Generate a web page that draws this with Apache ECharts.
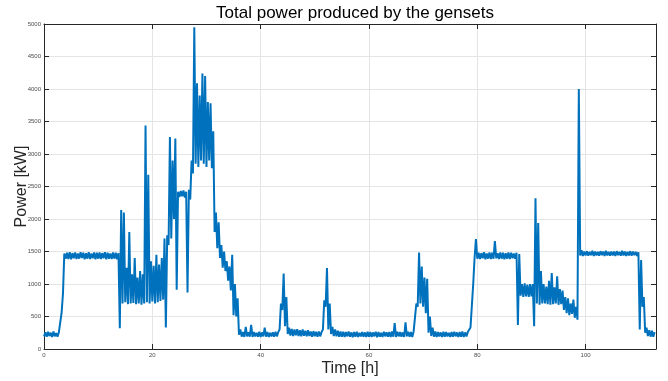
<!DOCTYPE html>
<html>
<head>
<meta charset="utf-8">
<script src="https://cdn.jsdelivr.net/npm/echarts@6/dist/echarts.min.js"></script>
<style>
html,body{margin:0;padding:0;background:#fff;}
#main{width:668px;height:381px;}
</style>
</head>
<body>
<div id="main"></div>
<script>
// time grid of the readings: one lo/hi pair every half hour
var stepHours = 0.5;
var xTicks = [0, 20, 40, 60, 80, 100];
var yTicks = [0, 500, 1000, 1500, 2000, 2500, 3000, 3500, 4000, 4500, 5000];

// lower edge of the noisy band [kW]
var powerLow = [
	195,190,200,185,195,190,250,850,1390,1385,
	1380,1395,1385,1390,1400,1380,1390,1385,1395,1380,
	1390,1385,1395,1380,1390,1385,1390,1380,320,700,
	720,690,700,710,690,700,680,700,720,700,
	730,700,720,740,760,330,1600,1700,2000,910,
	2340,2350,2330,870,2300,2700,2850,2800,2900,2850,
	2800,2900,2780,1800,1550,1400,1250,1200,1050,900,
	520,500,220,190,185,195,190,185,195,190,
	185,195,190,185,195,190,195,300,600,350,
	230,205,200,210,200,195,205,195,200,190,
	195,190,195,300,650,300,230,200,195,190,
	190,185,195,190,180,190,185,195,190,185,
	190,185,195,180,190,185,195,190,185,190,
	185,195,190,185,195,190,185,300,650,700,
	650,550,250,200,190,185,195,185,190,195,
	185,190,195,185,190,185,195,230,300,1400,
	1390,1385,1395,1380,1390,1385,1390,1395,1385,1390,
	1380,1390,1385,1395,1390,370,820,800,810,800,
	810,350,700,680,700,700,690,680,690,700,
	680,690,600,550,520,540,480,450,1440,1430,
	1440,1435,1445,1430,1440,1435,1445,1430,1440,1435,
	1440,1430,1445,1435,1440,1430,1440,1435,1445,1430,
	300,650,250,200,190,190
];
// upper edge of the noisy band [kW]
var powerHigh = [
	255,265,250,270,245,260,560,1470,1480,1490,
	1475,1485,1470,1490,1480,1475,1490,1470,1485,1480,
	1485,1475,1490,1480,1470,1485,1480,1475,2140,2100,
	1250,1800,1150,1400,1100,1200,1150,3440,2680,1350,
	1280,1450,1300,1400,1700,1750,3260,2900,3240,2420,
	2430,2440,2420,2450,2900,4950,4090,3900,4240,4200,
	3800,3780,3350,2100,1950,1600,1500,1350,1270,1450,
	1000,780,300,260,340,255,370,260,250,265,
	255,330,260,250,255,265,260,700,1160,800,
	330,310,300,305,290,300,280,290,270,275,
	265,270,260,750,1245,700,340,300,280,270,
	265,260,270,255,260,265,250,260,255,265,
	260,255,265,260,250,265,255,260,270,400,
	265,260,255,410,265,260,270,700,1485,1270,
	1100,1080,500,330,270,260,255,265,260,250,
	260,265,255,260,270,255,260,330,1000,1690,
	1480,1475,1490,1470,1485,1480,1660,1475,1485,1480,
	1475,1485,1480,1470,1480,1460,1000,1010,990,1000,
	1000,2320,1940,1200,1000,960,1050,1170,950,1120,
	920,900,800,780,700,760,650,4000,1520,1500,
	1505,1495,1510,1500,1495,1505,1500,1510,1495,1500,
	1500,1505,1495,1510,1500,1495,1505,1500,1495,1490,
	1370,800,330,290,280,260
];

var seriesData = [];
for (var i = 0; i < powerLow.length; i++) {
	var t = i * stepHours;
	seriesData.push([t, powerLow[i]]);
	seriesData.push([t + stepHours / 2, powerHigh[i]]);
}

var axisCol = '#262626';
var tickFont = {fontSize: 6, color: '#4d4d4d', fontFamily: 'Liberation Sans'};

var myChart = echarts.init(document.getElementById('main'), null, {renderer: 'canvas'});
var option = {
	animation: false,
	backgroundColor: '#fff',
	title: {
		text: 'Total power produced by the gensets',
		left: 350, top: 0, textAlign: 'center',
		textStyle: {fontFamily: 'Liberation Sans', fontSize: 17, fontWeight: 'normal', color: '#000'}
	},
	grid: {left: 44, right: 12, top: 24, bottom: 32, outerBoundsMode: 'none', containLabel: false},
	xAxis: [
		{
			type: 'value', min: 0, max: 113, interval: 20,
			name: 'Time [h]', nameLocation: 'middle', nameGap: 12, nameMoveOverlap: false,
			nameTextStyle: {fontFamily: 'Liberation Sans', fontSize: 16, color: '#262626'},
			axisLine: {lineStyle: {color: axisCol, width: 1}},
			axisTick: {inside: true, length: 5, lineStyle: {color: axisCol}},
			axisLabel: Object.assign({margin: 3, showMaxLabel: false,
				formatter: function(v){ return xTicks.indexOf(v) >= 0 ? String(v) : ''; }}, tickFont),
			splitLine: {show: true, lineStyle: {color: '#e5e5e5', width: 1}}
		},
		{
			type: 'value', min: 0, max: 113, interval: 20, position: 'top',
			axisLine: {show: true, onZero: false, lineStyle: {color: axisCol, width: 1}},
			axisTick: {show: true, inside: true, length: 5, lineStyle: {color: axisCol}},
			axisLabel: {show: false}, splitLine: {show: false}
		}
	],
	yAxis: [
		{
			type: 'value', min: 0, max: 5000, interval: 500,
			name: 'Power [kW]', nameLocation: 'middle', nameGap: 14, nameMoveOverlap: false,
			nameTextStyle: {fontFamily: 'Liberation Sans', fontSize: 16, color: '#262626'},
			axisLine: {show: true, lineStyle: {color: axisCol, width: 1}},
			axisTick: {show: true, inside: true, length: 5, lineStyle: {color: axisCol}},
			axisLabel: Object.assign({margin: 3,
				formatter: function(v){ return yTicks.indexOf(v) >= 0 ? String(v) : ''; }}, tickFont),
			splitLine: {show: true, lineStyle: {color: '#e5e5e5', width: 1}}
		},
		{
			type: 'value', min: 0, max: 5000, interval: 500, position: 'right',
			axisLine: {show: true, onZero: false, lineStyle: {color: axisCol, width: 1}},
			axisTick: {show: true, inside: true, length: 5, lineStyle: {color: axisCol}},
			axisLabel: {show: false}, splitLine: {show: false}
		}
	],
	series: [
		{
			name: 'Power',
			type: 'line',
			data: seriesData,
			showSymbol: false,
			sampling: null,
			clip: true,
			lineStyle: {color: '#0072BD', width: 2},
			itemStyle: {color: '#0072BD'}
		}
	]
};
myChart.setOption(option);
</script>
</body>
</html>
